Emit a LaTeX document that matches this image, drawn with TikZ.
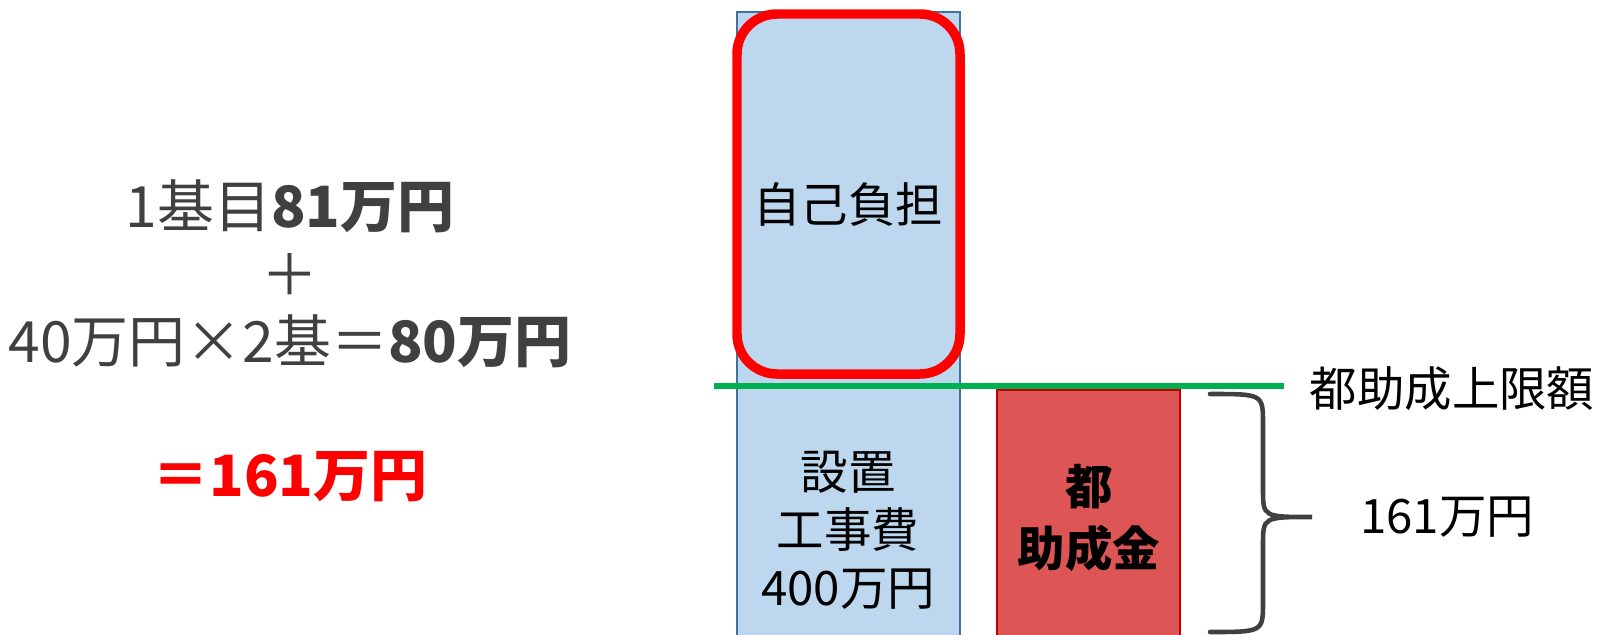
\documentclass[tikz,border=0pt]{standalone}
\usepackage{fontspec}
\setmainfont{Noto Sans CJK JP}
\usetikzlibrary{positioning, calc}
\definecolor{BarBlue}{HTML}{BDD7EE}
\definecolor{BarEdge}{HTML}{41719C}
\definecolor{AlertRed}{HTML}{FF0000}
\definecolor{LimitGreen}{HTML}{00B050}
\definecolor{GrantRed}{HTML}{DE5555}
\definecolor{GrantEdge}{HTML}{C00000}
\definecolor{TextGray}{HTML}{404040}

\begin{document}
\begin{tikzpicture}[
    bar_text/.style={
        align=center,
        inner sep=0pt,
        font=\fontsize{13.5}{16.5}\selectfont,
        text=black
    },
    sum_text/.style={
        align=center,
        inner sep=0pt,
        font=\fontsize{16.2}{19.1}\selectfont,
        text=TextGray
    },
    brace_line/.style={
        line width=1.3pt,
        color=TextGray,
        line cap=round
    }
]
\useasboundingbox (0,0) rectangle (16.04,6.34);

% =========================
% COST BAR
% =========================
\draw[fill=BarBlue, draw=BarEdge, line width=0.6pt]
    (7.37,-0.1) rectangle (9.60,6.22);

% self payment part
\draw[draw=AlertRed, line width=2.7pt, rounded corners=0.4cm]
    (7.37,2.60) rectangle (9.60,6.20);
\node[bar_text] (selfpay) at (8.48,4.29) {自己負担};

\node[bar_text] (cost) at (8.48,1.04) {設置\\工事費\\400万円};

% =========================
% GRANT
% =========================
\draw[fill=GrantRed, draw=GrantEdge, line width=0.6pt]
    (9.97,-0.1) rectangle (11.80,2.44);
\node[bar_text, font=\fontsize{13.5}{17.9}\selectfont\bfseries]
    (grant) at (10.89,1.16) {都\\助成金};

% upper limit line
\draw[draw=LimitGreen, line width=1.7pt] (7.14,2.48) -- (12.84,2.48);
\node[bar_text, anchor=west] (limit) at (13.09,2.45) {都助成上限額};

% =========================
% BRACE
% =========================
\coordinate (brace_top) at (12.10,2.40);
\coordinate (brace_tip) at (13.12,1.17);
\coordinate (brace_bot) at (12.10,0.02);
\draw[brace_line]
    (brace_top) .. controls (12.63,2.40) .. (12.63,2.10)
    -- (12.63,1.45) .. controls (12.63,1.17) .. (brace_tip)
    .. controls (12.63,1.17) .. (12.63,0.89)
    -- (12.63,0.32) .. controls (12.63,0.02) .. (brace_bot);
\node[bar_text] (total) at (14.47,1.17) {161万円};

% =========================
% CALCULATION
% =========================
\node[sum_text] (calc) at (2.90,2.93)
    {1基目\textbf{81万円}\\
     ＋\\
     40万円×2基＝\textbf{80万円}\\[19.1pt]
     {\color{AlertRed}\bfseries ＝161万円}};

\end{tikzpicture}
\end{document}
